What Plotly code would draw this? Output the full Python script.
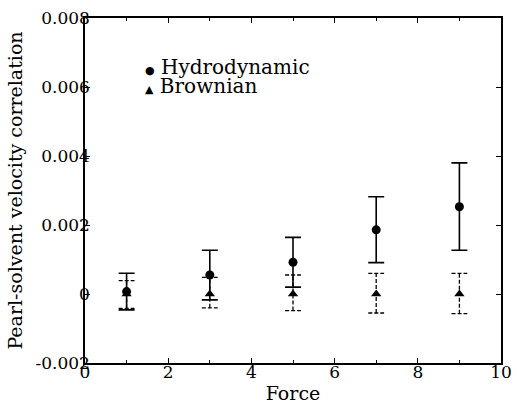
import plotly.graph_objects as go

force = [1, 3, 5, 7, 9]
hydro = [0.00007, 0.00055, 0.00092, 0.00186, 0.00253]
hydro_err_plus = [0.00053, 0.00072, 0.00072, 0.00096, 0.00127]
hydro_err_minus = [0.00053, 0.00072, 0.00072, 0.00095, 0.00126]
brown = [0.0, 0.0, 0.0, 0.0, 0.0]
brown_err_plus = [0.00039, 0.00048, 0.00055, 0.0006, 0.0006]
brown_err_minus = [0.00042, 0.0004, 0.00048, 0.00055, 0.00057]

x_ticks = [0, 2, 4, 6, 8, 10]
y_ticks = [-0.002, 0, 0.002, 0.004, 0.006, 0.008]
y_ticktext = ["-0.002", "0", "0.002", "0.004", "0.006", "0.008"]
legend_names = ["Hydrodynamic", "Brownian"]
legend_symbols = ["\u25CF", "\u25B2"]

FONT = "DejaVu Serif"
cap = 0.19  # cap half-width in force units

# dashed error bars for Brownian built from data
bx, by = [], []
for xv, yv, ep, em in zip(force, brown, brown_err_plus, brown_err_minus):
    lo, hi = yv - em, yv + ep
    bx += [xv, xv, None, xv - cap, xv + cap, None, xv - cap, xv + cap, None]
    by += [lo, hi, None, lo, lo, None, hi, hi, None]

fig = go.Figure()
fig.add_trace(go.Scatter(
    x=bx, y=by, mode="lines", showlegend=False, hoverinfo="skip",
    line=dict(color="black", width=1.3, dash="4px,2px"),
))
fig.add_trace(go.Scatter(
    x=force, y=hydro, mode="markers", name=legend_names[0],
    marker=dict(symbol="circle", size=9, color="black"),
    error_y=dict(type="data", symmetric=False, array=hydro_err_plus,
                 arrayminus=hydro_err_minus, color="black", thickness=1.6, width=8),
))
fig.add_trace(go.Scatter(
    x=force, y=brown, mode="markers", name=legend_names[1],
    marker=dict(symbol="triangle-up", size=9, color="black"),
))

# legend drawn as text (tight spacing like the reference)
for i, (sym, name) in enumerate(zip(legend_symbols, legend_names)):
    fig.add_annotation(
        xref="paper", yref="paper", x=0.14, y=0.858 - i * 0.054,
        xanchor="left", yanchor="middle", showarrow=False,
        text=f"<span style='font-size:11px'>{sym}</span> {name}",
        font=dict(family=FONT, size=20, color="black"),
    )

fig.update_layout(
    width=517, height=404,
    margin=dict(l=85, r=16, t=18, b=41),
    paper_bgcolor="white", plot_bgcolor="white",
    font=dict(family=FONT, size=17, color="black"),
    showlegend=False,
    xaxis=dict(
        range=[0, 10], tickvals=x_ticks, ticks="inside", ticklen=5,
        tickwidth=1, tickcolor="black", ticklabelstandoff=-7,
        minor=dict(dtick=1, ticks="inside", ticklen=3, tickcolor="black"),
        showline=True, linecolor="black", linewidth=1.5, mirror="allticks",
        showgrid=False, zeroline=False, automargin=False,
        title=dict(text="Force", font=dict(family=FONT, size=19, color="black"), standoff=6),
        tickfont=dict(family=FONT, size=17, color="black"),
    ),
    yaxis=dict(
        range=[-0.002, 0.008], tickvals=y_ticks, ticktext=y_ticktext,
        ticks="inside", ticklen=5, tickwidth=1, tickcolor="black",
        ticklabelstandoff=-10,
        showline=True, linecolor="black", linewidth=1.5, mirror="allticks",
        showgrid=False, zeroline=False, automargin=False,
        title=dict(text="Pearl-solvent velocity correlation",
                   font=dict(family=FONT, size=19, color="black"), standoff=8),
        tickfont=dict(family=FONT, size=17, color="black"),
    ),
)

fig.write_html("out.html")
